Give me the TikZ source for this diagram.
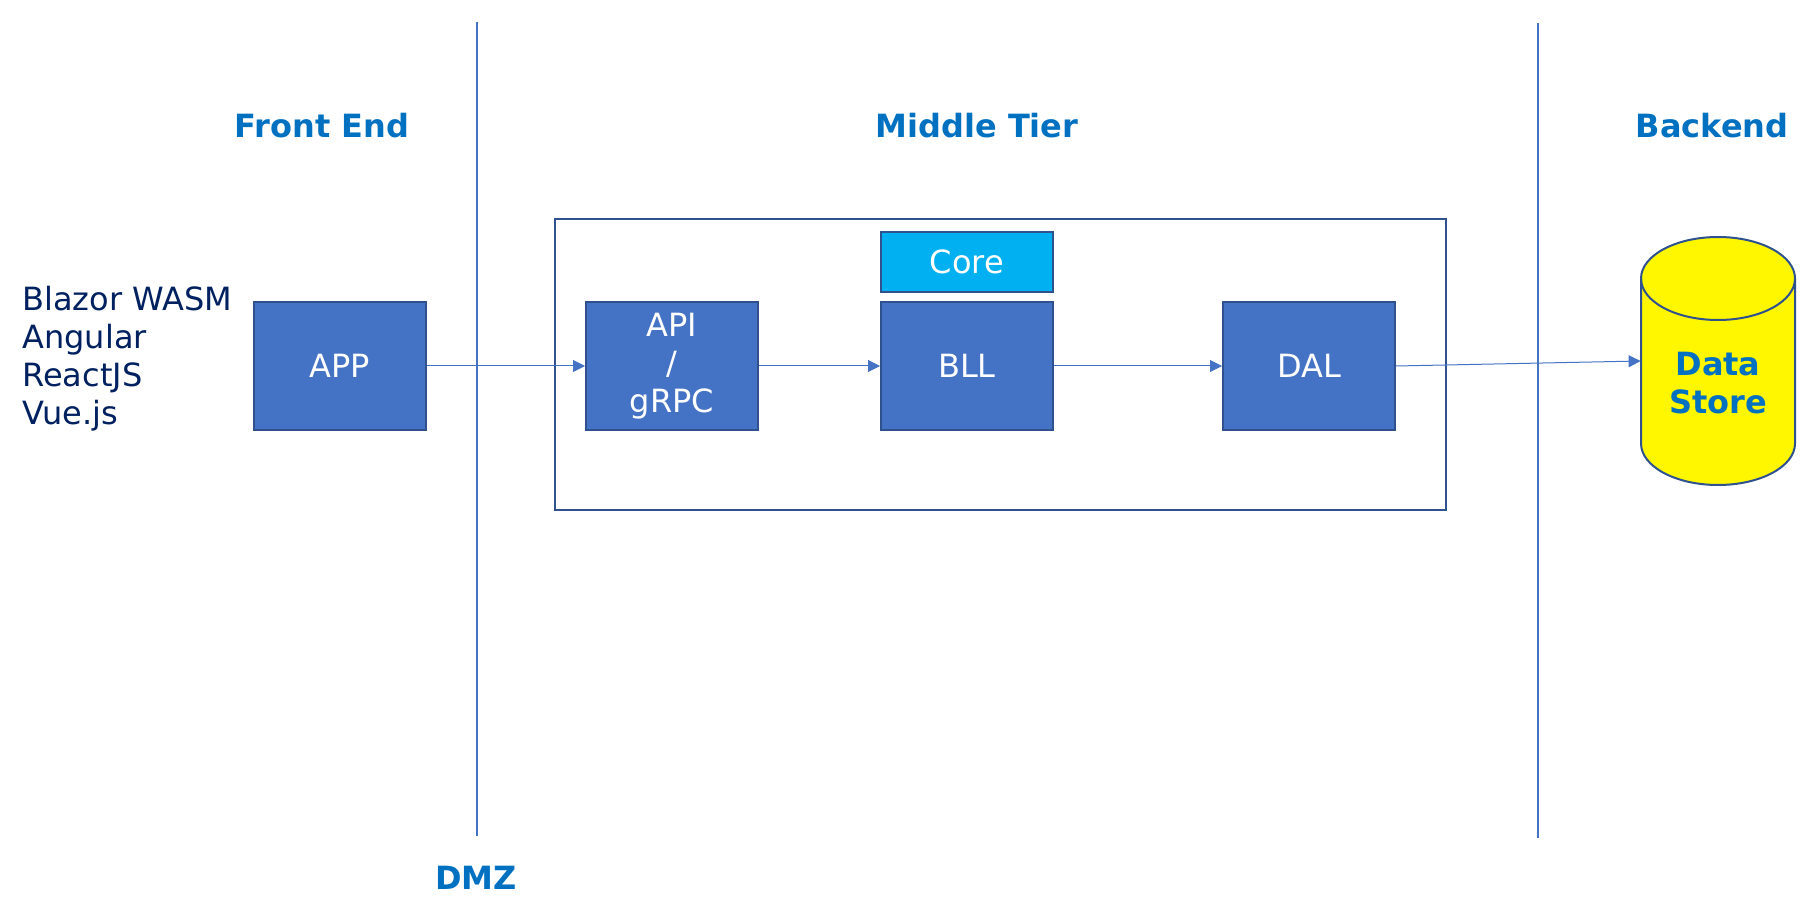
\documentclass[tikz,border=0pt]{standalone}
\usepackage{fontspec}
\setmainfont{DejaVu Sans}
\usetikzlibrary{arrows.meta}
\definecolor{boxblue}{HTML}{4472C4}
\definecolor{boxedge}{HTML}{2F528F}
\definecolor{corecyan}{HTML}{00B0F0}
\definecolor{titleblue}{HTML}{0070C0}
\definecolor{navy}{HTML}{002060}
\definecolor{storeyellow}{HTML}{FFF700}
\begin{document}
\begin{tikzpicture}[x=0.5pt, y=-0.5pt,
        every node/.style={font=\fontsize{16}{19}\selectfont, inner sep=0pt},
        tier/.style={font=\fontsize{16}{19}\selectfont\bfseries, text=titleblue, align=center},
        layer/.style={draw=boxedge, line width=1pt, fill=boxblue, text=white,
            minimum width=86pt, minimum height=64pt, align=center},
        flow/.style={draw=boxblue, line width=0.5pt, -{Triangle[length=6pt,width=6pt]}},
        zone/.style={draw=boxblue, line width=0.75pt},
        can/.style={draw=boxedge, line width=1pt}]
        \pgfmathsetmacro\mid{366};
        \pgfmathsetmacro\rx{77};
        \pgfmathsetmacro\ry{41.5};

        \useasboundingbox (0,0) rectangle (1808,903);

        \draw[zone] (477,22) -- (477,836);
        \draw[zone] (1538,23) -- (1538,838);
        \draw[draw=boxedge, line width=1pt] (555,219) rectangle (1446,510);

        \node[tier] (front) at (322,126) {Front End};
        \node[tier] (middle) at (977,126) {Middle Tier};
        \node[tier] (back) at (1712,126) {Backend};
        \node[tier] (dmz) at (476,878) {DMZ};

        \node[text=navy, align=left, anchor=west] (clients) at (22,358.5)
            {Blazor WASM\\Angular\\ReactJS\\Vue.js};

        \node[layer] (app) at (339.5,\mid) {APP};
        \node[layer] (api) at (672,\mid) {API\\/\\gRPC};
        \node[layer] (bll) at (967,\mid) {BLL};
        \node[layer] (dal) at (1309,\mid) {DAL};
        \node[layer, fill=corecyan, minimum height=30pt] (core) at (967,262) {Core};

        \node[minimum width=77pt, minimum height=124pt] (store) at (1718,361) {};
        \draw[can, fill=storeyellow] (1641,237 + \ry) -- (1641,485 - \ry)
            arc[start angle=180, end angle=0, x radius=\rx, y radius=\ry]
            -- (1795,237 + \ry)
            arc[start angle=0, end angle=-180, x radius=\rx, y radius=\ry] -- cycle;
        \draw[can] (1641,237 + \ry) arc[start angle=180, end angle=0, x radius=\rx, y radius=\ry];
        \node[tier] (storetext) at (1718,383) {Data\\Store};

        \draw[flow] (app) -- (api);
        \draw[flow] (api) -- (bll);
        \draw[flow] (bll) -- (dal);
        \draw[flow] (dal.east) -- (store.west);
    \end{tikzpicture}
\end{document}
